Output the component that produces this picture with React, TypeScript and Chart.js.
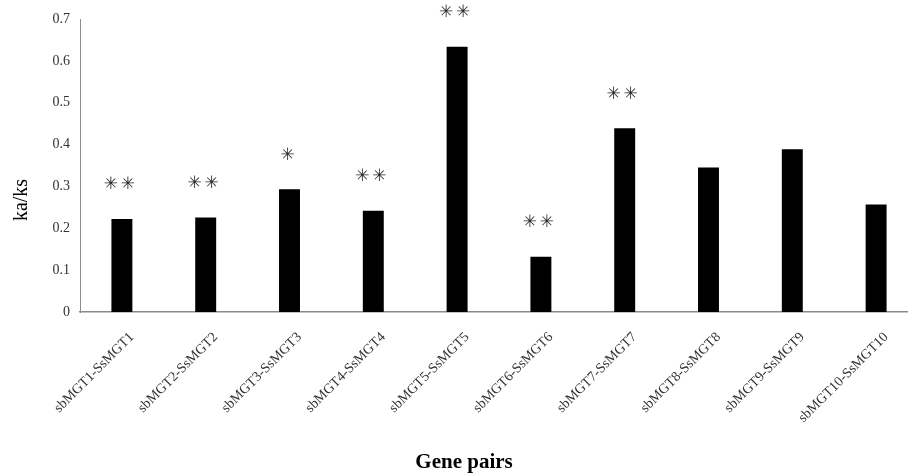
import React, { useEffect, useRef } from "react";
import { Chart, registerables } from "chart.js";

Chart.register(...registerables);

const categories = [
  "sbMGT1-SsMGT1",
  "sbMGT2-SsMGT2",
  "sbMGT3-SsMGT3",
  "sbMGT4-SsMGT4",
  "sbMGT5-SsMGT5",
  "sbMGT6-SsMGT6",
  "sbMGT7-SsMGT7",
  "sbMGT8-SsMGT8",
  "sbMGT9-SsMGT9",
  "sbMGT10-SsMGT10",
];
const kaks = [0.222, 0.226, 0.293, 0.242, 0.634, 0.132, 0.439, 0.345, 0.389, 0.257];
const starCounts = [2, 2, 1, 2, 2, 2, 2, 0, 0, 0];
const yTicks = [0, 0.1, 0.2, 0.3, 0.4, 0.5, 0.6, 0.7];
const yTitle = "ka/ks";
const xTitle = "Gene pairs";
const STAR = "\u2733";

const SERIF = "'Liberation Serif', 'Times New Roman', serif";

export default function App() {
  const ref = useRef<HTMLCanvasElement | null>(null);

  useEffect(() => {
    document.body.style.overflow = "hidden";
    const canvas = ref.current;
    if (!canvas) return;

    const annotations = {
      id: "annotations",
      afterDatasetsDraw(chart: any) {
        const ctx = chart.ctx;
        const meta = chart.getDatasetMeta(0);
        ctx.save();
        ctx.fillStyle = "#2a2a2a";
        ctx.font = "bold 17px 'DejaVu Sans', sans-serif";
        ctx.textAlign = "center";
        ctx.textBaseline = "middle";
        meta.data.forEach((el: any, i: number) => {
          const n = starCounts[i];
          const y = el.y - 34;
          if (n === 1) {
            ctx.fillText(STAR, el.x - 2, y);
          } else if (n === 2) {
            ctx.fillText(STAR, el.x - 11, y);
            ctx.fillText(STAR, el.x + 6, y);
          }
        });
        ctx.restore();
      },
      afterDraw(chart: any) {
        const ctx = chart.ctx;
        ctx.save();
        ctx.fillStyle = "#000000";
        ctx.font = `20px ${SERIF}`;
        ctx.textAlign = "center";
        ctx.textBaseline = "middle";
        ctx.translate(22, 200);
        ctx.rotate(-Math.PI / 2);
        ctx.fillText(yTitle, 0, 0);
        ctx.restore();

        ctx.save();
        ctx.fillStyle = "#000000";
        ctx.font = `bold 21px ${SERIF}`;
        ctx.textAlign = "center";
        ctx.textBaseline = "middle";
        ctx.fillText(xTitle, 464, 463);
        ctx.restore();
      },
    };

    const chart = new Chart(canvas, {
      type: "bar",
      data: {
        labels: categories,
        datasets: [
          {
            data: kaks,
            backgroundColor: "#000000",
            borderColor: "#000000",
            borderWidth: 0,
            barPercentage: 0.25,
            categoryPercentage: 1,
          },
        ],
      },
      options: {
        responsive: false,
        animation: false,
        devicePixelRatio: 1,
        layout: { padding: { top: 19, right: 0, left: 0, bottom: 0 } },
        plugins: {
          legend: { display: false },
          tooltip: { enabled: false },
          title: { display: false },
        },
        scales: {
          x: {
            grid: { display: false, drawTicks: false },
            border: { display: true, color: "#8c8c8c", width: 1.5 },
            ticks: {
              autoSkip: false,
              minRotation: 45,
              maxRotation: 45,
              padding: 17,
              labelOffset: 10,
              color: "#333333",
              font: { family: SERIF, size: 14 },
            },
            afterFit(scale: any) {
              scale.height = 164;
            },
          },
          y: {
            min: 0,
            max: 0.7,
            grid: { display: false, drawTicks: false },
            border: { display: true, color: "#8c8c8c", width: 1 },
            afterBuildTicks(scale: any) {
              scale.ticks = yTicks.map((v) => ({ value: v }));
            },
            ticks: {
              padding: 10,
              color: "#333333",
              font: { family: SERIF, size: 14 },
              callback: (v: any) => String(Math.round(Number(v) * 10) / 10),
            },
            afterFit(scale: any) {
              scale.width = 80;
            },
          },
        },
      },
      plugins: [annotations],
    });

    return () => chart.destroy();
  }, []);

  return (
    <div style={{ position: "fixed", left: 0, top: 0, width: 918, height: 476, background: "#ffffff" }}>
      <canvas ref={ref} width={918} height={476} style={{ display: "block", width: 918, height: 476 }} />
    </div>
  );
}
